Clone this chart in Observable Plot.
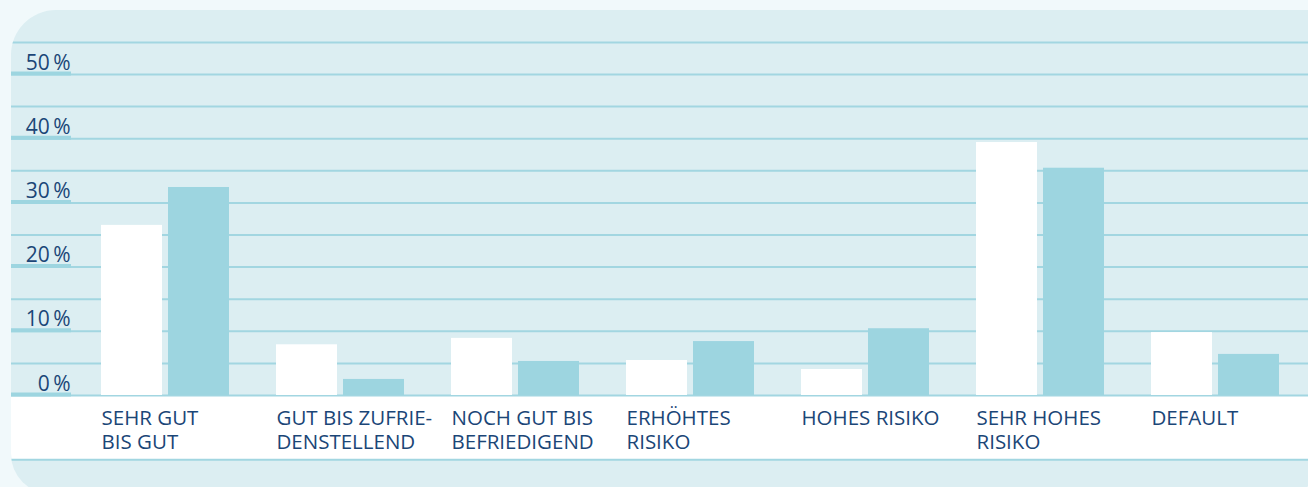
<!DOCTYPE html>
<html><head><meta charset="utf-8">
<script src="https://cdn.jsdelivr.net/npm/d3@7"></script>
<script src="https://cdn.jsdelivr.net/npm/@observablehq/plot@0.6"></script>
<style>
html,body{margin:0;padding:0;background:#f1f9fb;overflow:hidden;width:1308px;height:487px;}
#panel{position:absolute;left:11px;top:10px;width:1301px;height:484px;background:#dceef2;border-radius:45px 0 20px 40px;overflow:hidden;}
</style></head><body><div id="panel"></div>
<script>
const categories = ["SEHR GUT\nBIS GUT", "GUT BIS ZUFRIE-\nDENSTELLEND", "NOCH GUT BIS\nBEFRIEDIGEND", "ERHÖHTES\nRISIKO", "HOHES RISIKO", "SEHR HOHES\nRISIKO", "DEFAULT"];
const seriesWhite = [26.5, 7.9, 8.9, 5.45, 4.05, 39.4, 9.8];
const seriesTeal = [32.4, 2.5, 5.3, 8.4, 10.4, 35.4, 6.4];
const yTicks = [0, 10, 20, 30, 40, 50];
const gridLines = [5, 10, 15, 20, 25, 30, 35, 40, 45, 50, 55];
const bandBottom = -10;

const data = categories.map((c, i) => ({cat: c, white: seriesWhite[i], teal: seriesTeal[i]}));
const navy = "#1b4677";
const teal = "#9dd5e0";
const gridColor = "#a2d6e1";

const chart = Plot.plot({
  width: 1297,
  height: 477,
  marginLeft: 0, marginRight: 0, marginTop: 0, marginBottom: 0,
  style: {background: "transparent", fontFamily: "'Open Sans', sans-serif", fontSize: "20.5px", color: navy},
  x: {domain: categories, range: [90, 1268], paddingInner: 0.2686, paddingOuter: 0, align: 0, axis: null},
  y: {domain: [0, 50], range: [385, 64], axis: null},
  marks: [
    Plot.ruleY(gridLines, {stroke: gridColor, strokeWidth: 2}),
    Plot.rect([0], {y1: 0, y2: bandBottom, fill: "white"}),
    Plot.ruleY([0, bandBottom], {stroke: gridColor, strokeWidth: 2}),
    Plot.ruleY(yTicks, {stroke: teal, strokeWidth: 4, dy: -1, insetRight: 1297 - 60}),
    Plot.barY(data, {x: "cat", y: "white", fill: "white", insetRight: 67}),
    Plot.barY(data, {x: "cat", y: "teal", fill: teal, insetLeft: 67}),
    Plot.text(yTicks, {y: d => d, text: d => `${d}\u2009%`, frameAnchor: "left", dx: 59, dy: -5, textAnchor: "end", lineAnchor: "bottom", fill: navy, fontSize: 21}),
    Plot.text(data, {x: "cat", y: 0, text: "cat", textAnchor: "start", dx: -64, dy: 12.4, lineAnchor: "top", lineHeight: 1.17, fill: navy, fontSize: 20.5})
  ]
});
document.getElementById("panel").appendChild(chart);
</script>
</body></html>
